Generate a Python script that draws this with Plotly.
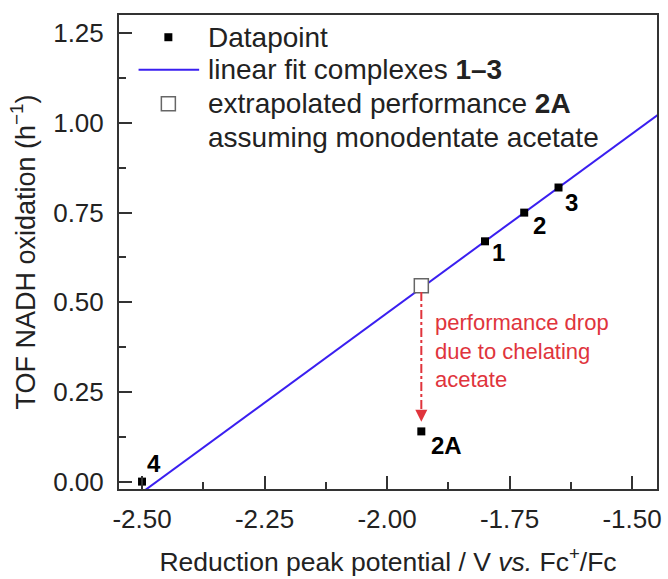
import plotly.graph_objects as go

# ---- data ----
pt_labels = ["1", "2", "3", "4", "2A"]
pt_x = [-1.80, -1.72, -1.65, -2.50, -1.93]
pt_y = [0.67, 0.75, 0.82, 0.00, 0.14]

ext_x = [-1.93]
ext_y = [0.546]

fit_x = [-2.60, -1.40]
fit_y = [-0.13, 1.07]

x_ticks = [-2.50, -2.25, -2.00, -1.75, -1.50]
y_ticks = [0.00, 0.25, 0.50, 0.75, 1.00, 1.25]

FONT = "Arial, Liberation Sans, sans-serif"
BLUE = "#3a1ff0"
RED = "#e0343c"
AX = "#333333"
TXT = "#222222"

fig = go.Figure()
fig.add_trace(go.Scatter(x=fit_x, y=fit_y, mode="lines",
                         line=dict(color=BLUE, width=2), showlegend=False))
fig.add_trace(go.Scatter(x=pt_x, y=pt_y, mode="markers",
                         marker=dict(symbol="square", size=8, color="black"),
                         showlegend=False, cliponaxis=False))
fig.add_trace(go.Scatter(x=ext_x, y=ext_y, mode="markers",
                         marker=dict(symbol="square", size=14, color="white",
                                     line=dict(color="#666666", width=1.5)),
                         showlegend=False, cliponaxis=False))

# point labels
offsets = {"1": (13, -11), "2": (15, -13), "3": (13, -15), "4": (12, 18), "2A": (25, -14)}
for lab, x, y in zip(pt_labels, pt_x, pt_y):
    dx, dy = offsets[lab]
    fig.add_annotation(x=x, y=y, xref="x", yref="y", text=f"<b>{lab}</b>",
                       showarrow=False, xshift=dx, yshift=dy,
                       font=dict(family=FONT, size=24, color="black"))

# red dash-dot arrow from extrapolated point down to 2A
a_x = ext_x[0]
y_start = ext_y[0] - 0.017
y_end = pt_y[4] + 0.027
fig.add_shape(type="line", xref="x", yref="y", x0=a_x, x1=a_x, y0=y_start, y1=y_end + 0.02,
              line=dict(color=RED, width=2, dash="dashdot"))
fig.add_annotation(x=a_x, y=y_end, ax=a_x, ay=y_end + 0.03, xref="x", yref="y",
                   axref="x", ayref="y", text="", showarrow=True, arrowhead=2,
                   arrowsize=1.2, arrowwidth=2, arrowcolor=RED)
fig.add_annotation(x=0.583, y=0.382, xref="paper", yref="paper", xanchor="left", yanchor="top",
                   align="left", showarrow=False,
                   text="performance drop<br>due to chelating<br>acetate",
                   font=dict(family=FONT, size=22, color=RED))

# manual legend
def px_to_paper(px, py):
    return (px - 119.3) / 541.7, (490.7 - py) / 475.7

lx, ly = px_to_paper(169, 37.3)
fig.add_shape(type="rect", xref="paper", yref="paper", xsizemode="pixel", ysizemode="pixel",
              xanchor=lx, yanchor=ly, x0=-4, x1=4, y0=-4, y1=4,
              fillcolor="black", line=dict(width=0))
l0, ly2 = px_to_paper(139, 70)
l1, _ = px_to_paper(200, 70)
fig.add_shape(type="line", xref="paper", yref="paper", x0=l0, x1=l1, y0=ly2, y1=ly2,
              line=dict(color=BLUE, width=2))
sx, sy = px_to_paper(169, 104)
fig.add_shape(type="rect", xref="paper", yref="paper", xsizemode="pixel", ysizemode="pixel",
              xanchor=sx, yanchor=sy, x0=-7, x1=7, y0=-7, y1=7,
              fillcolor="white", line=dict(color="#666666", width=1.5))

leg_texts = ["Datapoint", "linear fit complexes <b>1–3</b>",
             "extrapolated performance <b>2A</b>", "assuming monodentate acetate"]
leg_ys = [37.3, 70, 104, 138]
for t, yy in zip(leg_texts, leg_ys):
    px_, py_ = px_to_paper(207, yy)
    fig.add_annotation(x=px_, y=py_, xref="paper", yref="paper", xanchor="left",
                       yanchor="middle", showarrow=False, text=t,
                       font=dict(family=FONT, size=28, color=TXT))

fig.update_layout(
    width=668, height=579,
    margin=dict(l=119, r=7, t=15, b=88),
    paper_bgcolor="white", plot_bgcolor="white",
    font=dict(family=FONT, size=26, color=TXT),
    showlegend=False,
    xaxis=dict(range=[-2.547, -1.449], tickvals=x_ticks,
               ticktext=[f"{v:.2f}" for v in x_ticks],
               ticks="inside", ticklen=13, tickwidth=2, tickcolor=AX,
               minor=dict(ticks="inside", ticklen=7, tickwidth=2, tickcolor=AX, dtick=0.125,
                          tick0=-2.5),
               showline=True, linecolor=AX, linewidth=2, mirror=True,
               showgrid=False, zeroline=False, ticklabelstandoff=6,
               tickfont=dict(family=FONT, size=26, color=TXT),
               title=dict(text="Reduction peak potential / V <i>vs.</i> Fc<sup>+</sup>/Fc",
                          font=dict(family=FONT, size=26.5, color=TXT), standoff=19)),
    yaxis=dict(range=[-0.0206, 1.301], tickvals=y_ticks,
               ticktext=[f"{v:.2f}" for v in y_ticks],
               ticks="inside", ticklen=13, tickwidth=2, tickcolor=AX,
               minor=dict(ticks="inside", ticklen=7, tickwidth=2, tickcolor=AX, dtick=0.125,
                          tick0=0),
               showline=True, linecolor=AX, linewidth=2, mirror=True,
               showgrid=False, zeroline=False, ticklabelstandoff=8,
               tickfont=dict(family=FONT, size=26, color=TXT),
               title=dict(text="TOF NADH oxidation (h<sup>−1</sup>)",
                          font=dict(family=FONT, size=27, color=TXT), standoff=10)),
)

fig.write_html("out.html")
